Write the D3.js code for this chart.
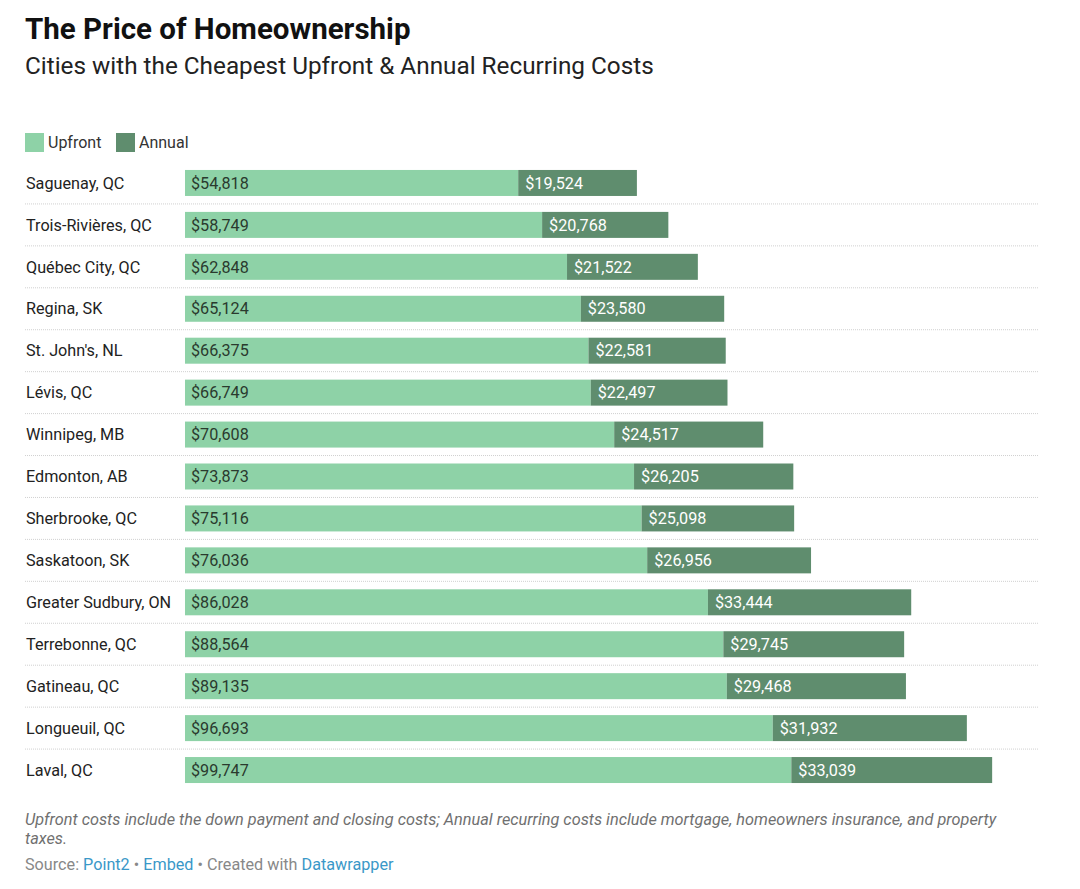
<!DOCTYPE html>
<html><head><meta charset="utf-8">
<script src="https://cdn.jsdelivr.net/npm/d3@7"></script>
<style>body{margin:0;background:#fff;font-family:Roboto,sans-serif}</style>
</head><body><svg id="c" width="1080" height="889"></svg>
<script>
const categories=["Saguenay, QC","Trois-Rivières, QC","Québec City, QC","Regina, SK","St. John's, NL","Lévis, QC","Winnipeg, MB","Edmonton, AB","Sherbrooke, QC","Saskatoon, SK","Greater Sudbury, ON","Terrebonne, QC","Gatineau, QC","Longueuil, QC","Laval, QC"];
const upfront=[54818,58749,62848,65124,66375,66749,70608,73873,75116,76036,86028,88564,89135,96693,99747];
const annual=[19524,20768,21522,23580,22581,22497,24517,26205,25098,26956,33444,29745,29468,31932,33039];
const seriesNames=["Upfront","Annual"];
const colors=["#8ed2a7","#5f8d6e"];

const svg=d3.select("#c");
const x=d3.scaleLinear().domain([0,140000]).range([185,1036]);
const y=d3.scaleBand().domain(categories).range([162,791]).paddingInner(0.38).paddingOuter(0.19);
const fmt=d3.format("$,");

svg.append("text").attr("x",25).attr("y",39).attr("font-size",29.5).attr("font-weight",700).attr("fill","#111").text("The Price of Homeownership");
svg.append("text").attr("x",25).attr("y",74).attr("font-size",24.3).attr("fill","#222").text("Cities with the Cheapest Upfront & Annual Recurring Costs");

// legend
const lx=[25,116];
seriesNames.forEach((s,i)=>{
  svg.append("rect").attr("x",lx[i]).attr("y",133).attr("width",19).attr("height",19).attr("fill",colors[i]);
  svg.append("text").attr("x",lx[i]+23).attr("y",148).attr("font-size",16).attr("fill","#333").text(s);
});

// separators
categories.slice(0,-1).forEach((c,i)=>{
  const yy=(y(categories[i])+y.bandwidth()+y(categories[i+1]))/2;
  svg.append("line").attr("x1",25).attr("x2",1038).attr("y1",yy).attr("y2",yy).attr("stroke","#d0d0d0").attr("stroke-dasharray","1,1");
});

const g=svg.append("g");
categories.forEach((c,i)=>{
  const yy=y(c), h=y.bandwidth(), cy=yy+h/2;
  g.append("text").attr("x",26).attr("y",cy).attr("dy","0.35em").attr("font-size",16.2).attr("fill","#222").text(c);
  g.append("rect").attr("x",x(0)).attr("y",yy).attr("width",x(upfront[i])-x(0)).attr("height",h).attr("fill",colors[0]);
  g.append("rect").attr("x",x(upfront[i])).attr("y",yy).attr("width",x(upfront[i]+annual[i])-x(upfront[i])).attr("height",h).attr("fill",colors[1]);
  g.append("text").attr("x",x(0)+6).attr("y",cy).attr("dy","0.35em").attr("font-size",16.2).attr("fill","#2a3a2e").text(fmt(upfront[i]));
  g.append("text").attr("x",x(upfront[i])+7).attr("y",cy).attr("dy","0.35em").attr("font-size",16.2).attr("fill","#fff").text(fmt(annual[i]));
});

const note=svg.append("text").attr("font-size",16.3).attr("font-style","italic").attr("fill","#707070");
note.append("tspan").attr("x",25).attr("y",825).text("Upfront costs include the down payment and closing costs; Annual recurring costs include mortgage, homeowners insurance, and property");
note.append("tspan").attr("x",25).attr("y",844).text("taxes.");
const src=svg.append("text").attr("x",25).attr("y",870).attr("font-size",16.2).attr("fill","#888");
src.append("tspan").text("Source: ");
src.append("tspan").attr("fill","#3a98c8").text("Point2");
src.append("tspan").text(" • ");
src.append("tspan").attr("fill","#3a98c8").text("Embed");
src.append("tspan").text(" • Created with ");
src.append("tspan").attr("fill","#3a98c8").text("Datawrapper");
</script></body></html>
